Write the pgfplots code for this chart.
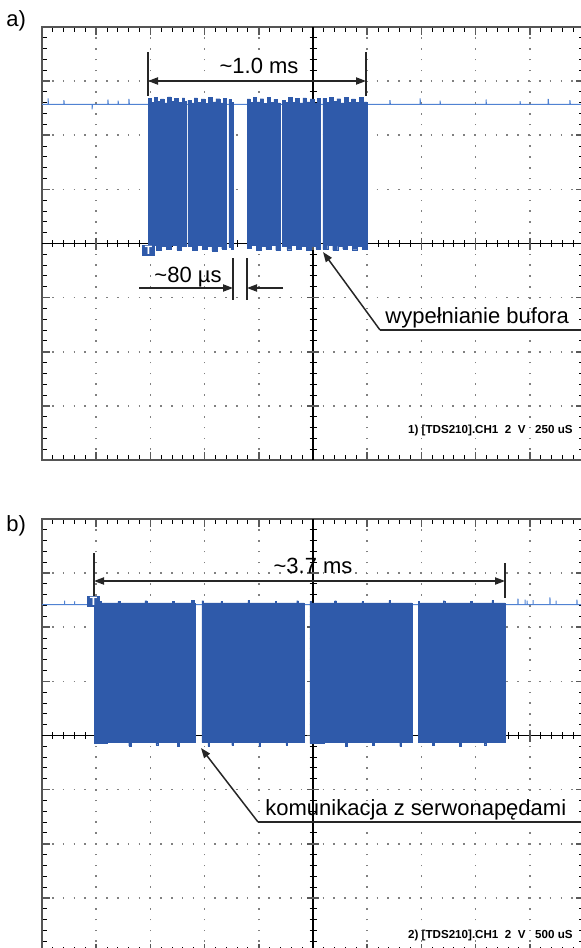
\documentclass[border=0pt]{standalone}
\usepackage{pgfplots}
\pgfplotsset{compat=1.18}
\usepackage{fontspec}
\setmainfont{Liberation Sans}
\usetikzlibrary{arrows.meta}

\definecolor{sig}{RGB}{47,90,170}
\definecolor{base}{RGB}{80,130,210}
\definecolor{frame}{RGB}{85,85,85}

% 1 px of the reference = 0.5pt
\pgfplotsset{
  oscbox/.style={
    scale only axis, width=271pt, height=216.5pt, anchor=north west,
    enlargelimits=false, ymin=-8, ymax=8,
  },
  oscgrid/.style={
    oscbox,
    ytick distance=2, minor y tick num=4, minor x tick num=4,
    xticklabels={}, yticklabels={},
    tick align=inside, major tick length=4pt, minor tick length=2.5pt,
    tick style={black, line width=0.5pt},
    major tick style={gray!70!black, line width=0.8pt},
    grid=major,
    major grid style={gray, line width=0.8pt, dash pattern=on 0.8pt off 4.61pt, dash phase=0.4pt},
    axis line style={frame, line width=1pt},
  },
  oscdata/.style={oscbox, hide axis},
  burst/.style={fill=sig, draw=sig, line width=0.2pt, const plot},
}

\tikzset{
  dim/.style={black!85, line width=0.75pt},
  tip/.style={black!85, line width=0.75pt, -{Triangle[length=5pt,width=3.6pt]}},
  big/.style={font=\fontsize{11}{13}\selectfont, inner sep=0pt},
  small/.style={font=\fontsize{5.8}{7}\selectfont\bfseries, inner sep=0pt},
  cline/.style={black, line width=0.7pt},
  ctick/.style={black, line width=0.5pt},
  cmajor/.style={gray!70!black, line width=0.8pt},
}

% centre cross of the graticule, top edge of the screen at #1 (px)
\newcommand{\centercross}[1]{%
  \begin{scope}[x=0.5pt, y=-0.5pt]
    \draw[cline] (313,#1) -- (313,{#1+433});
    \draw[cline] (42,{#1+216.5}) -- (584,{#1+216.5});
    \foreach \i in {1,...,39} \draw[ctick] (309.5,{#1+\i*10.825}) -- ++(7,0);
    \foreach \i in {5,10,...,35} \draw[cmajor] (307,{#1+\i*10.825}) -- ++(12,0);
    \foreach \i in {1,...,49} \draw[ctick] ({42+\i*10.84},{#1+213}) -- ++(0,7);
    \foreach \i in {5,10,...,45} \draw[cmajor] ({42+\i*10.84},{#1+210.5}) -- ++(0,12);
  \end{scope}}

\begin{document}
\begin{tikzpicture}

% ---------------- panel a: 250 us/div ----------------
\begin{axis}[oscgrid, at={(21pt,-13.5pt)}, xmin=-1.25, xmax=1.25, xtick distance=0.25]
\addplot[draw=none] coordinates {(0,0)};
\end{axis}
\centercross{27}
\begin{axis}[oscdata, at={(21pt,-13.5pt)}, xmin=-1.25, xmax=1.25]
\addplot[base, line width=0.5pt] coordinates {
 (-1.25,5.14) (-1.222,5.14) (-1.222,5.36) (-1.220,5.14) (-1.149,5.14) (-1.149,5.30) (-1.147,5.14)
 (-1.019,5.14) (-1.019,4.96) (-1.017,5.14) (-0.946,5.14) (-0.946,5.32) (-0.944,5.14)
 (-0.899,5.14) (-0.899,5.28) (-0.897,5.14) (-0.849,5.14) (-0.849,5.34) (-0.847,5.14)
 (0.355,5.14) (0.355,5.30) (0.357,5.14) (0.494,5.14) (0.494,5.36) (0.496,5.14)
 (0.586,5.14) (0.586,5.28) (0.588,5.14) (0.798,5.14) (0.798,5.32) (0.800,5.14)
 (0.955,5.14) (0.955,5.26) (0.957,5.14) (1.085,5.14) (1.085,5.34) (1.087,5.14)
 (1.185,5.14) (1.185,5.30) (1.187,5.14) (1.25,5.14)};
% burst 1
\addplot[burst] coordinates {(-0.761,5.36) (-0.747,5.22) (-0.733,5.40) (-0.719,5.24) (-0.703,5.34) (-0.688,5.20) (-0.671,5.42) (-0.655,5.24) (-0.638,5.36) (-0.621,5.22) (-0.604,5.38) (-0.592,5.24) (-0.586,5.24)} \closedcycle;
\addplot[burst] coordinates {(-0.761,-0.22) (-0.742,-0.08) (-0.722,-0.26) (-0.701,-0.10) (-0.678,-0.20) (-0.652,-0.07) (-0.628,-0.24) (-0.606,-0.09) (-0.586,-0.09)} \closedcycle;
% burst 2
\addplot[burst] coordinates {(-0.577,5.30) (-0.562,5.20) (-0.548,5.38) (-0.533,5.22) (-0.516,5.34) (-0.499,5.19) (-0.482,5.40) (-0.465,5.23) (-0.448,5.35) (-0.430,5.20) (-0.414,5.37) (-0.401,5.37)} \closedcycle;
\addplot[burst] coordinates {(-0.577,-0.10) (-0.556,-0.24) (-0.534,-0.08) (-0.512,-0.21) (-0.489,-0.09) (-0.466,-0.27) (-0.443,-0.10) (-0.421,-0.20) (-0.401,-0.20)} \closedcycle;
% burst 3
\addplot[burst] coordinates {(-0.388,5.32) (-0.379,5.22) (-0.369,5.22)} \closedcycle;
\addplot[burst] coordinates {(-0.388,-0.12) (-0.378,-0.22) (-0.369,-0.22)} \closedcycle;
% burst 4
\addplot[burst] coordinates {(-0.304,5.34) (-0.290,5.21) (-0.275,5.39) (-0.260,5.23) (-0.244,5.35) (-0.228,5.19) (-0.212,5.41) (-0.196,5.22) (-0.180,5.33) (-0.165,5.20) (-0.152,5.20)} \closedcycle;
\addplot[burst] coordinates {(-0.304,-0.18) (-0.284,-0.07) (-0.262,-0.24) (-0.240,-0.09) (-0.217,-0.22) (-0.194,-0.08) (-0.172,-0.25) (-0.152,-0.25)} \closedcycle;
% burst 5
\addplot[burst] coordinates {(-0.143,5.28) (-0.128,5.21) (-0.113,5.40) (-0.097,5.22) (-0.081,5.36) (-0.064,5.20) (-0.047,5.38) (-0.030,5.23) (-0.013,5.34) (0.004,5.19) (0.019,5.37) (0.032,5.37)} \closedcycle;
\addplot[burst] coordinates {(-0.143,-0.09) (-0.121,-0.23) (-0.099,-0.08) (-0.077,-0.20) (-0.054,-0.10) (-0.031,-0.26) (-0.008,-0.09) (0.013,-0.21) (0.032,-0.21)} \closedcycle;
% burst 6
\addplot[burst] coordinates {(0.046,5.36) (0.061,5.22) (0.077,5.41) (0.093,5.24) (0.110,5.35) (0.127,5.20) (0.144,5.39) (0.161,5.22) (0.178,5.34) (0.196,5.21) (0.213,5.40) (0.231,5.23) (0.249,5.23)} \closedcycle;
\addplot[burst] coordinates {(0.046,-0.22) (0.068,-0.08) (0.091,-0.25) (0.114,-0.10) (0.137,-0.21) (0.160,-0.07) (0.183,-0.23) (0.206,-0.09) (0.228,-0.20) (0.249,-0.20)} \closedcycle;
\end{axis}

% ---------------- panel b: 500 us/div ----------------
\begin{axis}[oscgrid, at={(21pt,-259.5pt)}, xmin=-2.5, xmax=2.5, xtick distance=0.5]
\addplot[draw=none] coordinates {(0,0)};
\end{axis}
\centercross{519}
\begin{axis}[oscdata, at={(21pt,-259.5pt)}, xmin=-2.5, xmax=2.5]
\addplot[base, line width=0.5pt] coordinates {
 (-2.5,4.84) (-2.292,4.84) (-2.292,4.98) (-2.290,4.84) (-2.200,4.84) (-2.200,4.96) (-2.198,4.84)
 (1.891,4.84) (1.891,5.06) (1.893,4.84) (1.956,4.84) (1.956,5.02) (1.958,4.84)
 (1.975,4.84) (1.975,4.98) (1.977,4.84) (2.030,4.84) (2.030,5.00) (2.032,4.84)
 (2.186,4.84) (2.186,5.10) (2.188,4.84) (2.242,4.84) (2.242,4.98) (2.244,4.84)
 (2.435,4.84) (2.435,5.02) (2.437,4.84) (2.5,4.84)};
% burst 1
\addplot[burst] coordinates {(-2.020,4.95) (-1.95,4.90) (-1.80,4.96) (-1.78,4.90) (-1.55,4.98) (-1.53,4.90) (-1.30,4.95) (-1.28,4.90) (-1.12,4.99) (-1.10,4.90) (-1.089,4.90)} \closedcycle;
\addplot[burst] coordinates {(-2.020,-0.30) (-1.90,-0.26) (-1.70,-0.38) (-1.68,-0.26) (-1.45,-0.34) (-1.43,-0.26) (-1.25,-0.40) (-1.23,-0.26) (-1.089,-0.26)} \closedcycle;
% burst 2
\addplot[burst] coordinates {(-1.024,4.98) (-1.010,4.90) (-0.85,4.96) (-0.835,4.90) (-0.60,4.99) (-0.585,4.90) (-0.35,4.96) (-0.335,4.90) (-0.15,4.98) (-0.135,4.90) (-0.083,4.90)} \closedcycle;
\addplot[burst] coordinates {(-1.024,-0.26) (-0.97,-0.40) (-0.955,-0.26) (-0.75,-0.36) (-0.735,-0.26) (-0.50,-0.38) (-0.485,-0.26) (-0.25,-0.34) (-0.235,-0.26) (-0.083,-0.26)} \closedcycle;
% burst 3
\addplot[burst] coordinates {(-0.028,4.96) (-0.013,4.90) (0.20,4.98) (0.215,4.90) (0.45,4.95) (0.465,4.90) (0.70,4.99) (0.715,4.90) (0.913,4.90)} \closedcycle;
\addplot[burst] coordinates {(-0.028,-0.30) (0.10,-0.26) (0.30,-0.38) (0.315,-0.26) (0.55,-0.35) (0.565,-0.26) (0.80,-0.40) (0.815,-0.26) (0.913,-0.26)} \closedcycle;
% burst 4
\addplot[burst] coordinates {(0.969,4.97) (0.984,4.90) (1.20,4.98) (1.215,4.90) (1.45,4.96) (1.465,4.90) (1.65,4.99) (1.665,4.90) (1.771,4.90)} \closedcycle;
\addplot[burst] coordinates {(0.969,-0.26) (1.10,-0.36) (1.115,-0.26) (1.35,-0.40) (1.365,-0.26) (1.58,-0.34) (1.595,-0.26) (1.771,-0.26)} \closedcycle;
\end{axis}

% ---------------- annotations (reference pixels) ----------------
\begin{scope}[x=0.5pt, y=-0.5pt]
% panel a
\node[big, anchor=base west] at (6,26) {a)};
\draw[dim] (148,52) -- (148,96);
\draw[dim] (366,52) -- (366,96);
\draw[tip] (257,81) -- (148,81);
\draw[tip] (257,81) -- (366,81);
\node[big, anchor=base] at (259,73) {\textasciitilde 1.0 ms};
\draw[dim] (233,258) -- (233,300);
\draw[dim] (247,258) -- (247,300);
\draw[tip] (139,288) -- (233,288);
\draw[tip] (283,288) -- (247,288);
\node[big, anchor=base] at (188,282) {\textasciitilde 80 µs};
\draw[dim] (581,330) -- (380,330);
\draw[tip] (380,330) -- (323,252);
\node[big, anchor=base west] at (385,323) {wypełnianie bufora};
\fill[sig] (142,245) rectangle (155,256);
\node[small, white, font=\fontsize{6}{7}\selectfont\bfseries] at (148.5,250.5) {T};
\node[small, anchor=base east] at (573,433) {1) [TDS210].CH1\ \ 2\ \ V\ \ \ 250 uS};
% panel b
\node[big, anchor=base west] at (6,531) {b)};
\draw[dim] (94,553) -- (94,600);
\draw[dim] (505,563) -- (505,598);
\draw[tip] (300,581) -- (94,581);
\draw[tip] (300,581) -- (505,581);
\node[big, anchor=base] at (313,573) {\textasciitilde 3.7 ms};
\draw[dim] (581,822) -- (258,822);
\draw[tip] (258,822) -- (201,748);
\node[big, anchor=base west] at (265,815) {komunikacja z serwonapędami};
\fill[sig] (87,596) rectangle (100,607);
\node[small, white, font=\fontsize{6}{7}\selectfont\bfseries] at (93.5,601.5) {T};
\node[small, anchor=base east] at (573,938) {2) [TDS210].CH1\ \ 2\ \ V\ \ \ 500 uS};
\end{scope}

\pgfresetboundingbox
\useasboundingbox (0,0) rectangle (290.5pt,-474pt);
\end{tikzpicture}
\end{document}
